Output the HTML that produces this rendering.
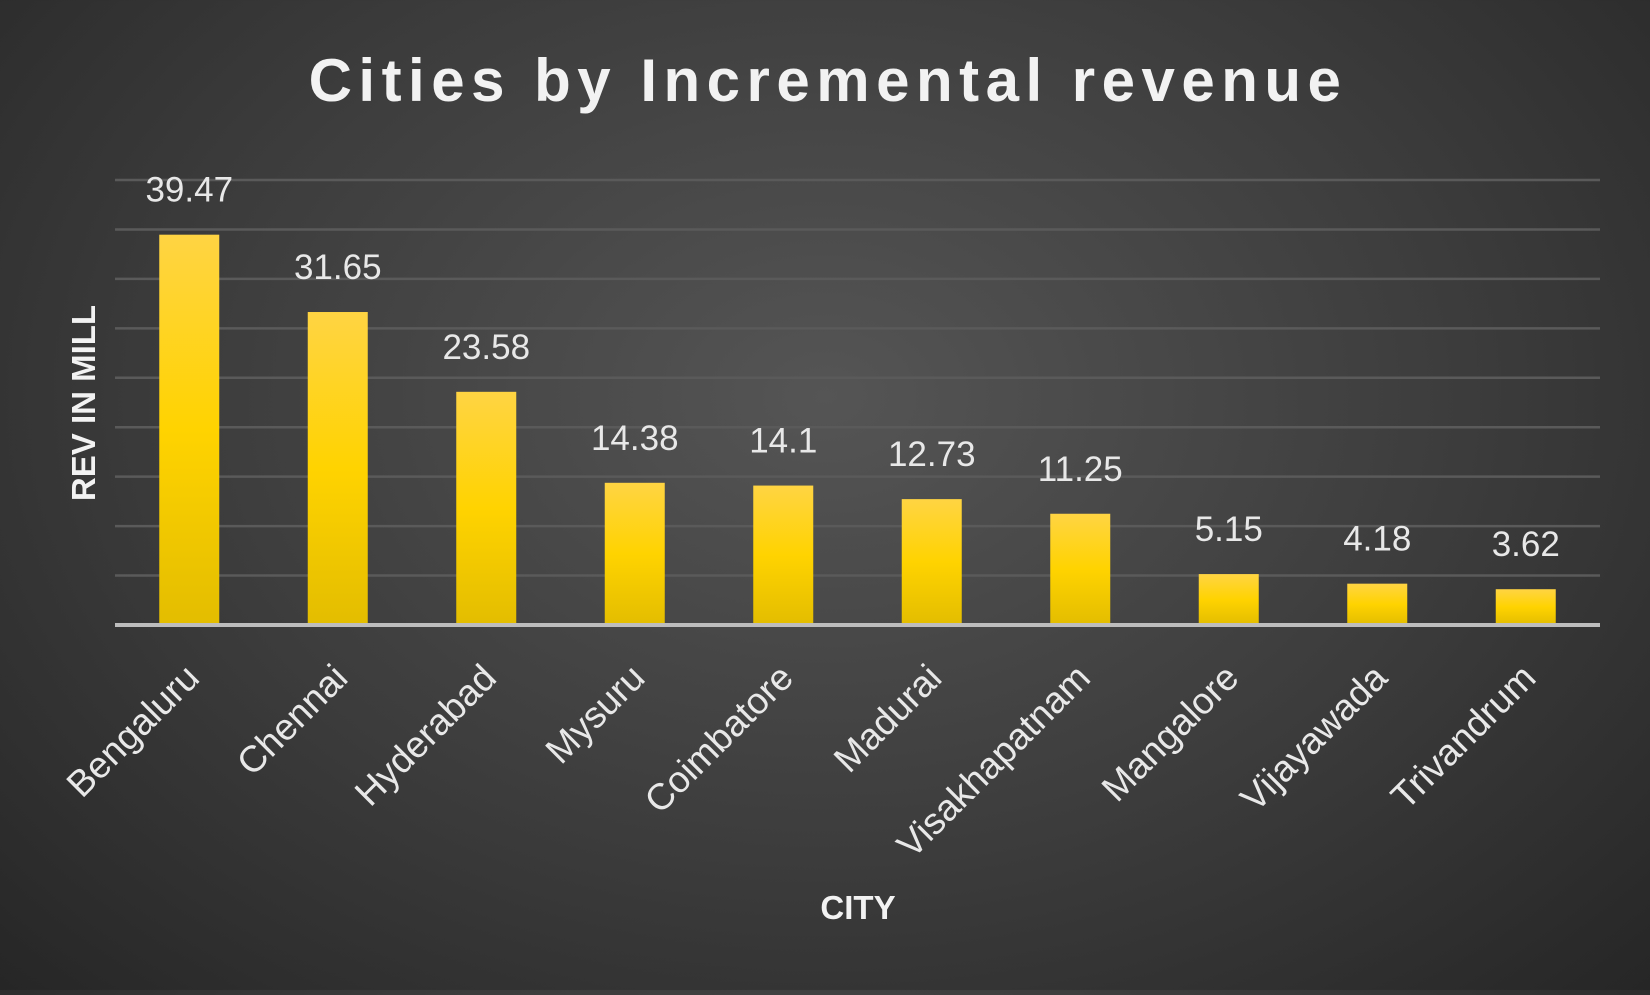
<!DOCTYPE html>
<html><head><meta charset="utf-8"><style>
html,body{margin:0;padding:0}
body{width:1650px;height:990px;overflow:hidden;background:radial-gradient(ellipse at 50% 40%,#555 0%,#3c3c3c 55%,#262626 100%);font-family:"Liberation Sans",sans-serif}
</style></head><body>
<svg id="chart" width="1650" height="990" xmlns="http://www.w3.org/2000/svg">
<defs>
<linearGradient id="bg" x1="0" y1="0" x2="0" y2="1">
<stop offset="0" stop-color="#ffd443"/><stop offset="0.5" stop-color="#ffd300"/><stop offset="1" stop-color="#e3bd00"/>
</linearGradient>
</defs>
<text x="828" y="101" text-anchor="middle" font-size="60" font-weight="bold" fill="#f2f2f2" letter-spacing="6.5">Cities by Incremental revenue</text>
<g id="grid"></g><g id="bars"></g><g id="labels"></g>
<text transform="translate(95,403) rotate(-90)" text-anchor="middle" font-size="33" font-weight="bold" fill="#f2f2f2">REV IN MILL</text>
<text x="858" y="919" text-anchor="middle" font-size="33" font-weight="bold" fill="#f2f2f2">CITY</text>
</svg>
<script>
const categories=["Bengaluru","Chennai","Hyderabad","Mysuru","Coimbatore","Madurai","Visakhapatnam","Mangalore","Vijayawada","Trivandrum"];
const values=[39.47,31.65,23.58,14.38,14.1,12.73,11.25,5.15,4.18,3.62];
const valueLabels=["39.47","31.65","23.58","14.38","14.1","12.73","11.25","5.15","4.18","3.62"];
const yTicks=[0,5,10,15,20,25,30,35,40,45];
const NS="http://www.w3.org/2000/svg";
const L=115,R=1600,T=180,B=625,yMax=45;
const y=v=>B-(v/yMax)*(B-T);
const band=(R-L)/categories.length;
const x=i=>L+band*(i+0.5);
function mk(t,a,p){const e=document.createElementNS(NS,t);for(const k in a)e.setAttribute(k,a[k]);p.appendChild(e);return e;}
const g=document.getElementById('grid'),b=document.getElementById('bars'),lb=document.getElementById('labels');
yTicks.forEach(v=>{if(v===0)return;const l=mk('line',{x1:L,x2:R,y1:y(v),y2:y(v),stroke:'#5a5a5a','stroke-width':2.5},g);

});
categories.forEach((c,i)=>{
const r=mk('rect',{x:x(i)-30,y:y(values[i]),width:60,height:B-y(values[i]),fill:'url(#bg)'},b);


const t=mk('text',{x:x(i),y:y(values[i])-33,'text-anchor':'middle','font-size':35,fill:'#e8e8e8'},lb);t.textContent=valueLabels[i];


const ct=mk('text',{transform:`translate(${x(i)+12},${B+55}) rotate(-45)`,'text-anchor':'end','font-size':37,fill:'#e8e8e8'},lb);ct.textContent=c;


});
const ax=mk('line',{x1:L,x2:R,y1:B,y2:B,stroke:'#bdbdbd','stroke-width':4},b);


</script>
</body></html>
